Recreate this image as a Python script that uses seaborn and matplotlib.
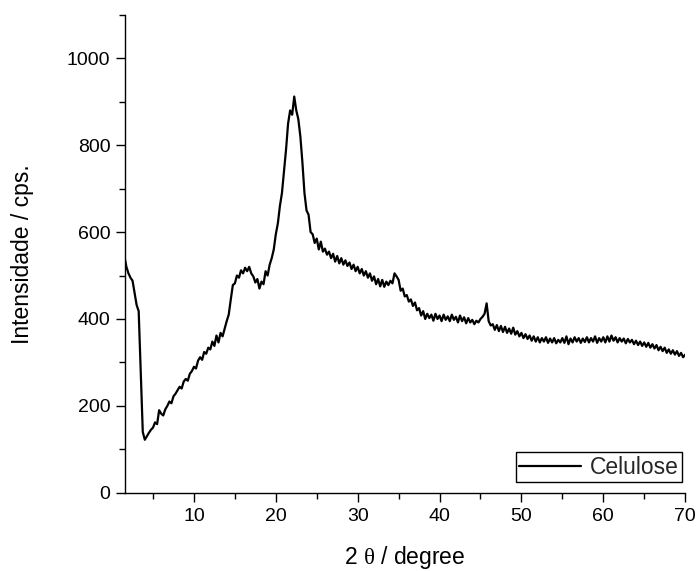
import numpy as np
import pandas as pd
import matplotlib
matplotlib.use("Agg")
import matplotlib.pyplot as plt
import seaborn as sns

# ---- data (2-theta step 0.25 deg, 1.5 .. 70.0) ----
intensity = [
    545, 520,                                   # 1.50 1.75
    505, 495, 488, 460,                         # 2
    432, 418, 280, 140,                         # 3
    122, 130, 138, 145,                         # 4
    150, 162, 158, 190,                         # 5
    182, 178, 192, 200,                         # 6
    210, 206, 222, 228,                         # 7
    236, 244, 240, 256,                         # 8
    262, 258, 274, 280,                         # 9
    290, 286, 304, 312,                         # 10
    306, 324, 320, 334,                         # 11
    330, 348, 338, 362,                         # 12
    346, 368, 360, 378,                         # 13
    395, 410, 445, 478,                         # 14
    482, 500, 495, 512,                         # 15
    505, 518, 510, 520,                         # 16
    505, 498, 484, 492,                         # 17
    470, 486, 480, 510,                         # 18
    500, 525, 540, 560,                         # 19
    595, 620, 660, 690,                         # 20
    740, 790, 850, 880,                         # 21
    870, 912, 880, 860,                         # 22
    820, 760, 690, 650,                         # 23
    640, 600, 595, 575,                         # 24
    585, 560, 578, 555,                         # 25
    562, 548, 555, 540,                         # 26
    550, 532, 545, 528,                         # 27
    540, 525, 535, 522,                         # 28
    530, 515, 525, 510,                         # 29
    520, 505, 515, 500,                         # 30
    510, 495, 505, 488,                         # 31
    498, 480, 492, 475,                         # 32
    490, 474, 486, 478,                         # 33
    488, 482, 505, 498,                         # 34
    490, 465, 470, 452,                         # 35
    455, 440, 445, 430,                         # 36
    438, 420, 425, 408,                         # 37
    418, 400, 412, 402,                         # 38
    410, 396, 412, 400,                         # 39
    408, 395, 410, 398,                         # 40
    406, 395, 410, 398,                         # 41
    405, 392, 408, 395,                         # 42
    404, 390, 402, 392,                         # 43
    398, 388, 396, 392,                         # 44
    400, 405, 412, 436,                         # 45
    395, 385, 388, 375,                         # 46
    386, 372, 384, 370,                         # 47
    382, 368, 378, 366,                         # 48
    380, 364, 372, 360,                         # 49
    368, 356, 365, 354,                         # 50
    362, 350, 360, 348,                         # 51
    358, 346, 356, 348,                         # 52
    358, 345, 355, 346,                         # 53
    356, 344, 352, 346,                         # 54
    356, 345, 360, 342,                         # 55
    355, 346, 358, 348,                         # 56
    356, 345, 355, 347,                         # 57
    358, 346, 356, 348,                         # 58
    360, 345, 356, 348,                         # 59
    358, 346, 360, 348,                         # 60
    362, 350, 358, 346,                         # 61
    356, 348, 355, 344,                         # 62
    354, 346, 352, 342,                         # 63
    350, 340, 348, 338,                         # 64
    346, 336, 345, 334,                         # 65
    342, 332, 340, 328,                         # 66
    336, 326, 334, 322,                         # 67
    330, 320, 328, 318,                         # 68
    326, 315, 322, 312,                         # 69
    318,                                        # 70.00
]
two_theta = np.linspace(1.5, 70.0, len(intensity))
series_name = "Celulose"
x_ticks = [10, 20, 30, 40, 50, 60, 70]
y_ticks = [0, 200, 400, 600, 800, 1000]

df = pd.DataFrame({"two_theta": two_theta, "intensity": intensity})

sns.set_theme(style="ticks")
plt.rcParams["font.family"] = ["Liberation Sans", "DejaVu Sans"]
plt.rcParams["mathtext.fontset"] = "custom"
plt.rcParams["mathtext.rm"] = "Liberation Serif"

fig = plt.figure(figsize=(6.97, 5.71), dpi=100)
ax = fig.add_axes([0.179, 0.137, 0.804, 0.837])

sns.lineplot(data=df, x="two_theta", y="intensity", ax=ax, color="black",
             linewidth=1.6, label=series_name, estimator=None, sort=False)

ax.set_xlim(1.55, 70)
ax.set_ylim(0, 1100)
ax.set_xticks(x_ticks)
ax.set_yticks(y_ticks)
ax.set_xticks([5, 15, 25, 35, 45, 55, 65], minor=True)
ax.set_yticks([100, 300, 500, 700, 900, 1100], minor=True)
ax.tick_params(axis="both", which="major", length=6.3, width=1.0,
               labelsize=14, color="black", labelcolor="black", direction="out")
ax.tick_params(axis="both", which="minor", length=4.1, width=1.0,
               color="black", direction="out")
ax.tick_params(axis="x", pad=5)
ax.tick_params(axis="y", pad=4)

for s in ["top", "right"]:
    ax.spines[s].set_visible(False)
for s in ["left", "bottom"]:
    ax.spines[s].set_linewidth(1.0)
    ax.spines[s].set_color("black")

ax.set_xlabel(r"2 $\mathrm{\theta}$ / degree", fontsize=16.5, color="black")
ax.set_ylabel("Intensidade / cps.", fontsize=16.5, color="black")
ax.xaxis.set_label_coords(0.5, -0.108)
ax.yaxis.set_label_coords(-0.162, 0.5)

leg = ax.legend(loc="lower right", bbox_to_anchor=(0.995, 0.022),
                fontsize=16.5, frameon=True, fancybox=False,
                borderaxespad=0.0, handlelength=2.7, handletextpad=0.4,
                borderpad=0.15)
leg.get_frame().set_edgecolor("black")
leg.get_frame().set_linewidth(1.0)
leg.get_frame().set_alpha(1)

fig.savefig("out.png", dpi=100)
